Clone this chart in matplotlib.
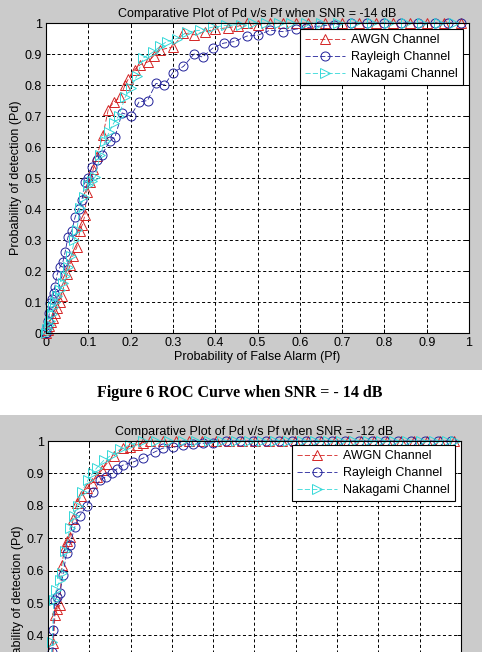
import matplotlib
matplotlib.use("Agg")
import matplotlib.pyplot as plt
from matplotlib.patches import Rectangle
from matplotlib.ticker import FuncFormatter

plt.rcParams["font.family"] = ["Liberation Sans", "DejaVu Sans"]
plt.rcParams["lines.scale_dashes"] = False

# ---- data: SNR = -14 dB (upper figure) ----
awgn_pf_14 = [0.000, 0.004, 0.008, 0.012, 0.017, 0.022, 0.027, 0.032, 0.037, 0.043,
              0.050, 0.057, 0.064, 0.073, 0.080, 0.086, 0.092, 0.096, 0.104, 0.112,
              0.120, 0.135, 0.147, 0.160, 0.175, 0.187, 0.195, 0.210, 0.222, 0.242,
              0.255, 0.270, 0.300, 0.325, 0.350, 0.375, 0.400, 0.430, 0.455, 0.475,
              0.500, 0.530, 0.560, 0.590, 0.620, 0.660, 0.700, 0.740, 0.780, 0.820,
              0.860, 0.900, 0.940, 0.980]
awgn_pd_14 = [0.000, 0.010, 0.022, 0.035, 0.050, 0.065, 0.080, 0.100, 0.120, 0.155,
              0.190, 0.220, 0.250, 0.277, 0.330, 0.350, 0.380, 0.455, 0.487, 0.530,
              0.570, 0.640, 0.720, 0.745, 0.760, 0.800, 0.820, 0.850, 0.865, 0.875,
              0.895, 0.913, 0.923, 0.967, 0.962, 0.972, 0.980, 0.985, 0.990, 1.000,
              0.995, 1.000, 1.000, 1.000, 1.000, 1.000, 1.000, 1.000, 1.000, 1.000,
              1.000, 1.000, 1.000, 1.000]

ray_pf_14 = [0.000, 0.002, 0.005, 0.008, 0.010, 0.014, 0.018, 0.021, 0.026, 0.033,
             0.040, 0.045, 0.052, 0.061, 0.069, 0.077, 0.085, 0.092, 0.100, 0.108,
             0.120, 0.132, 0.151, 0.163, 0.180, 0.200, 0.220, 0.240, 0.260, 0.280,
             0.300, 0.325, 0.350, 0.370, 0.395, 0.420, 0.445, 0.475, 0.500, 0.530,
             0.560, 0.590, 0.615, 0.645, 0.680, 0.720, 0.760, 0.800, 0.840, 0.880,
             0.920, 0.950, 0.980]
ray_pd_14 = [0.000, 0.020, 0.040, 0.065, 0.097, 0.110, 0.130, 0.150, 0.187, 0.213,
             0.230, 0.260, 0.310, 0.330, 0.375, 0.400, 0.430, 0.487, 0.500, 0.535,
             0.558, 0.574, 0.620, 0.632, 0.710, 0.700, 0.745, 0.750, 0.805, 0.800,
             0.840, 0.860, 0.900, 0.890, 0.920, 0.935, 0.940, 0.958, 0.960, 0.977,
             0.972, 0.980, 0.985, 0.990, 0.995, 1.000, 1.000, 1.000, 1.000, 1.000,
             1.000, 1.000, 1.000]

nak_pf_14 = [0.000, 0.003, 0.006, 0.010, 0.014, 0.017, 0.022, 0.027, 0.033, 0.040,
             0.046, 0.052, 0.060, 0.067, 0.073, 0.080, 0.090, 0.100, 0.108, 0.116,
             0.128, 0.140, 0.150, 0.160, 0.172, 0.187, 0.200, 0.215, 0.230, 0.253,
             0.270, 0.285, 0.310, 0.333, 0.365, 0.395, 0.425, 0.460, 0.490, 0.520,
             0.550, 0.580, 0.615, 0.650, 0.690, 0.730, 0.770, 0.810, 0.850, 0.890,
             0.930, 0.965]
nak_pd_14 = [0.000, 0.012, 0.025, 0.040, 0.060, 0.084, 0.100, 0.120, 0.139, 0.160,
             0.185, 0.213, 0.250, 0.300, 0.332, 0.403, 0.440, 0.477, 0.490, 0.503,
             0.574, 0.620, 0.650, 0.677, 0.700, 0.760, 0.790, 0.830, 0.887, 0.906,
             0.925, 0.940, 0.950, 0.970, 0.977, 0.987, 0.992, 0.995, 1.000, 1.000,
             1.000, 1.000, 1.000, 1.000, 1.000, 1.000, 1.000, 1.000, 1.000, 1.000,
             1.000, 1.000]

# ---- SNR = -12 dB (lower figure, cut off by the page) ----
awgn_pf_12 = [0.000, 0.003, 0.006, 0.009, 0.013, 0.017, 0.023, 0.029, 0.033, 0.041,
              0.047, 0.053, 0.061, 0.070, 0.080, 0.094, 0.106, 0.118, 0.130, 0.142,
              0.160, 0.182, 0.198, 0.215, 0.230, 0.246, 0.278, 0.310, 0.342, 0.374,
              0.406, 0.438, 0.470, 0.502, 0.534, 0.566, 0.598, 0.630, 0.662, 0.694,
              0.726, 0.758, 0.790, 0.822, 0.854, 0.886, 0.918, 0.950, 0.982]
awgn_pd_12 = [0.000, 0.080, 0.160, 0.240, 0.377, 0.463, 0.480, 0.494, 0.617, 0.673,
              0.690, 0.704, 0.760, 0.810, 0.830, 0.855, 0.870, 0.889, 0.910, 0.930,
              0.955, 0.978, 0.983, 0.988, 0.995, 1.000, 1.000, 1.000, 1.000, 1.000,
              1.000, 1.000, 1.000, 1.000, 1.000, 1.000, 1.000, 1.000, 1.000, 1.000,
              1.000, 1.000, 1.000, 1.000, 1.000, 1.000, 1.000, 1.000, 1.000]

ray_pf_12 = [0.000, 0.002, 0.004, 0.007, 0.010, 0.013, 0.017, 0.022, 0.029, 0.036,
             0.045, 0.053, 0.065, 0.077, 0.094, 0.109, 0.126, 0.140, 0.154, 0.168,
             0.182, 0.206, 0.230, 0.258, 0.278, 0.302, 0.327, 0.350, 0.375, 0.400,
             0.432, 0.464, 0.496, 0.528, 0.560, 0.592, 0.624, 0.656, 0.688, 0.720,
             0.752, 0.784, 0.816, 0.848, 0.880, 0.912, 0.944, 0.976]
ray_pd_12 = [0.000, 0.100, 0.200, 0.280, 0.350, 0.417, 0.510, 0.520, 0.530, 0.586,
             0.654, 0.680, 0.735, 0.770, 0.800, 0.843, 0.880, 0.890, 0.900, 0.915,
             0.926, 0.935, 0.947, 0.966, 0.978, 0.980, 0.988, 0.990, 0.993, 0.995,
             1.000, 1.000, 1.000, 1.000, 1.000, 1.000, 1.000, 1.000, 1.000, 1.000,
             1.000, 1.000, 1.000, 1.000, 1.000, 1.000, 1.000, 1.000]

nak_pf_12 = [0.000, 0.002, 0.004, 0.007, 0.010, 0.014, 0.020, 0.029, 0.033, 0.042,
             0.053, 0.062, 0.072, 0.082, 0.097, 0.108, 0.118, 0.135, 0.154, 0.175,
             0.198, 0.230, 0.262, 0.294, 0.326, 0.358, 0.390, 0.422, 0.454, 0.486,
             0.518, 0.550, 0.582, 0.614, 0.646, 0.678, 0.710, 0.742, 0.774, 0.806,
             0.838, 0.870, 0.902, 0.934, 0.966, 0.985]
nak_pd_12 = [0.000, 0.090, 0.180, 0.270, 0.380, 0.510, 0.540, 0.571, 0.593, 0.660,
             0.731, 0.770, 0.800, 0.843, 0.880, 0.900, 0.917, 0.940, 0.957, 0.975,
             0.988, 1.000, 1.000, 1.000, 1.000, 1.000, 1.000, 1.000, 1.000, 1.000,
             1.000, 1.000, 1.000, 1.000, 1.000, 1.000, 1.000, 1.000, 1.000, 1.000,
             1.000, 1.000, 1.000, 1.000, 1.000, 1.000]

ticks = [0.0, 0.1, 0.2, 0.3, 0.4, 0.5, 0.6, 0.7, 0.8, 0.9, 1.0]
labels = ["AWGN Channel", "Rayleigh Channel", "Nakagami Channel"]
colors = ["#d42424", "#22229a", "#33d8d8"]
markers = ["^", "o", ">"]

GRAY = "#cbcbcb"
W, H = 482, 652
FS = 9


def fig_rect(left, top, right, bottom):
    # pixel box -> figure fraction [l, b, w, h]
    return [left / W, 1 - bottom / H, (right - left) / W, (bottom - top) / H]


def draw_panel(fig, box, title, series, legend_anchor, show_x=True):
    ax = fig.add_axes(fig_rect(*box))
    ax.set_facecolor("white")
    for (pf, pd), lab, c, m in zip(series, labels, colors, markers):
        ax.plot(pf, pd, linestyle="--", color=c, linewidth=0.6, marker=m,
                markersize=6.5, markerfacecolor="none", markeredgecolor=c,
                markeredgewidth=0.7, label=lab, clip_on=False)
    ax.set_xlim(0, 1)
    ax.set_ylim(0, 1)
    ax.set_xticks(ticks)
    ax.set_yticks(ticks)
    fmt = FuncFormatter(lambda v, p: f"{v:g}")
    ax.xaxis.set_major_formatter(fmt)
    ax.yaxis.set_major_formatter(fmt)
    ax.grid(True, color="black", linestyle=(0, (2.2, 1.8)), linewidth=0.7)
    ax.tick_params(direction="in", length=3, width=0.7, labelsize=FS,
                   top=True, right=True, pad=3)
    for s in ax.spines.values():
        s.set_linewidth(0.8)
    ax.set_title(title, fontsize=FS, pad=4)
    if show_x:
        ax.set_xlabel("Probability of False Alarm (Pf)", fontsize=FS, labelpad=1)
    else:
        # this part of the lower window lies below the page edge
        ax.tick_params(axis="x", labelbottom=False)
    ax.set_ylabel("Probability of detection (Pd)", fontsize=FS, labelpad=2)
    leg = ax.legend(loc="upper right", bbox_to_anchor=legend_anchor,
                    fontsize=FS, frameon=True, fancybox=False, framealpha=1,
                    edgecolor="black", borderaxespad=0, handlelength=3.2,
                    borderpad=0.4, labelspacing=0.4, handletextpad=0.5)
    leg.get_frame().set_linewidth(0.8)
    return ax


fig = plt.figure(figsize=(W / 100, H / 100), dpi=100, facecolor="white")

# grey figure backgrounds of the two MATLAB windows
fig.patches.append(Rectangle((0, 1 - 370 / H), 1, 370 / H, transform=fig.transFigure,
                             facecolor=GRAY, edgecolor="none", zorder=-10))
fig.patches.append(Rectangle((0, 0), 1, 1 - 415 / H, transform=fig.transFigure,
                             facecolor=GRAY, edgecolor="none", zorder=-10))

draw_panel(fig, (46, 23, 469, 333),
           "Comparative Plot of Pd v/s Pf when SNR = -14 dB",
           [(awgn_pf_14, awgn_pd_14), (ray_pf_14, ray_pd_14), (nak_pf_14, nak_pd_14)],
           (0.986, 0.981))

fig.text(240 / W, 1 - 393 / H, "Figure 6 ROC Curve when SNR = - 14 dB",
         ha="center", va="center", fontsize=11.5, fontweight="bold",
         family=["Liberation Serif", "DejaVu Serif"])

draw_panel(fig, (48, 441, 461, 765),
           "Comparative Plot of Pd v/s Pf when SNR = -12 dB",
           [(awgn_pf_12, awgn_pd_12), (ray_pf_12, ray_pd_12), (nak_pf_12, nak_pd_12)],
           (0.985, 0.988), show_x=False)

fig.savefig("out.png", dpi=100, facecolor="white")
